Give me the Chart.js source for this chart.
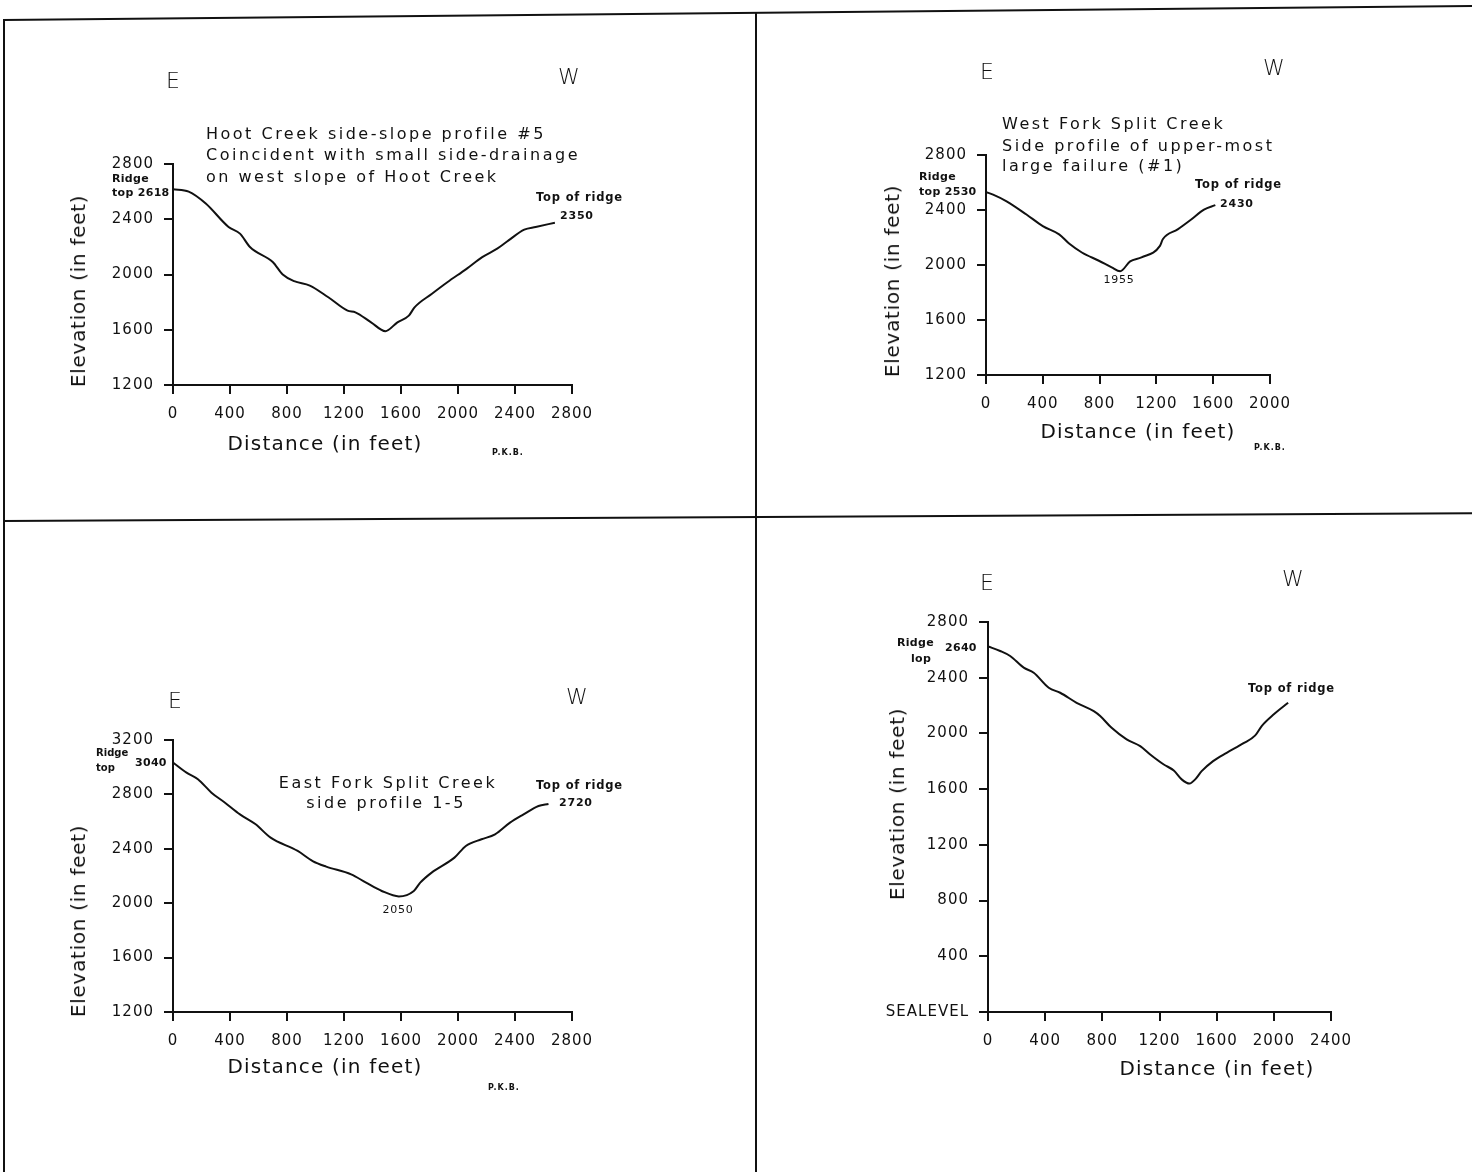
<!DOCTYPE html>
<html>
<head>
<meta charset="utf-8">
<script src="https://cdn.jsdelivr.net/npm/chart.js@4.4.1/dist/chart.umd.min.js"></script>
<style>
  body { margin: 0; width: 1472px; height: 1172px; background: #fff; position: relative; overflow: hidden;
         font-family: "DejaVu Sans", sans-serif; color: #111; }
  canvas { position: absolute; }
  .txt { position: absolute; white-space: pre; line-height: 1; }
  .line { position: absolute; background: #111; }
</style>
</head>
<body>
<canvas id="hoot"></canvas>
<canvas id="west"></canvas>
<canvas id="east"></canvas>
<canvas id="seal"></canvas>
<script>
// Hoot Creek side-slope profile #5
const hootDist = [0, 110, 230, 390, 470, 540, 700, 770, 850, 960, 1090, 1225, 1280, 1390, 1490, 1575, 1655, 1695, 1815, 1925, 2060, 2170, 2275, 2355, 2465, 2545, 2680];
const hootElev = [2618, 2600, 2514, 2344, 2296, 2199, 2090, 2000, 1952, 1920, 1835, 1738, 1726, 1654, 1590, 1654, 1702, 1762, 1859, 1944, 2041, 2126, 2187, 2247, 2325, 2344, 2375];

// West Fork Split Creek, upper-most large failure (#1)
const westDist = [0, 50, 145, 285, 400, 515, 585, 675, 795, 885, 945, 1015, 1095, 1225, 1245, 1350, 1445, 1535, 1615];
const westElev = [2530, 2512, 2463, 2367, 2283, 2223, 2156, 2091, 2031, 1983, 1955, 2026, 2055, 2139, 2187, 2259, 2331, 2403, 2435];

// East Fork Split Creek side profile 1-5
const eastDist = [0, 95, 175, 270, 365, 470, 580, 685, 875, 980, 1075, 1250, 1355, 1465, 1585, 1690, 1735, 1815, 1975, 2055, 2165, 2260, 2365, 2460, 2565, 2635];
const eastElev = [3035, 2960, 2911, 2813, 2739, 2653, 2580, 2482, 2384, 2310, 2269, 2212, 2151, 2090, 2050, 2090, 2151, 2225, 2335, 2421, 2470, 2506, 2592, 2653, 2715, 2730];

// cuarto perfil (base a nivel del mar)
const sealDist = [0, 85, 155, 250, 320, 425, 505, 620, 740, 785, 865, 970, 1065, 1135, 1230, 1300, 1355, 1410, 1450, 1495, 1575, 1670, 1785, 1870, 1915, 2000, 2100];
const sealElev = [2625, 2592, 2556, 2472, 2436, 2328, 2292, 2220, 2160, 2125, 2040, 1957, 1909, 1849, 1777, 1734, 1670, 1640, 1670, 1729, 1801, 1861, 1928, 1986, 2053, 2137, 2220];

const INK = '#111';
const XH = 50;   // alto fijo del eje x

// espaciado de letras en el canvas (la fuente original es ancha)
const espaciado = {
  id: 'espaciado',
  beforeDraw(chart) { chart.ctx.letterSpacing = '1px'; }
};

function crearPerfil(id, caja, area, dist, elev, xMax, yMin, yMax, etiquetaCero, anchoY) {
  const canvas = document.getElementById(id);
  canvas.width = caja.w;
  canvas.height = caja.h;
  canvas.style.left = caja.x + 'px';
  canvas.style.top = caja.y + 'px';
  const YW = anchoY || 80;

  const ejeComun = {
    type: 'linear',
    grid: { drawOnChartArea: false, drawTicks: true, tickLength: 9, color: INK, lineWidth: 2 },
    border: { display: true, color: INK, width: 2 },
    ticks: { stepSize: 400, color: INK, font: { family: 'DejaVu Sans', size: 15 } }
  };

  return new Chart(canvas.getContext('2d'), {
    type: 'line',
    data: {
      datasets: [{
        data: dist.map((d, i) => ({ x: d, y: elev[i] })),
        borderColor: INK,
        borderWidth: 2,
        pointRadius: 0,
        fill: false,
        cubicInterpolationMode: 'monotone'
      }]
    },
    options: {
      responsive: false,
      animation: false,
      events: [],
      layout: {
        padding: {
          left: area.l - caja.x - YW,
          top: area.t - caja.y,
          right: caja.x + caja.w - area.r,
          bottom: caja.y + caja.h - area.b - XH
        }
      },
      plugins: { legend: { display: false }, tooltip: { enabled: false } },
      scales: {
        x: Object.assign({}, ejeComun, {
          min: 0, max: xMax,
          ticks: Object.assign({}, ejeComun.ticks, { padding: 11, maxRotation: 0, callback: v => String(v) }),
          afterFit: s => { s.height = XH; }
        }),
        y: Object.assign({}, ejeComun, {
          min: yMin, max: yMax,
          ticks: Object.assign({}, ejeComun.ticks, {
            padding: 10,
            callback: v => (v === 0 && etiquetaCero) ? etiquetaCero : String(v)
          }),
          afterFit: s => { s.width = YW; }
        })
      }
    },
    plugins: [espaciado]
  });
}

crearPerfil('hoot', { x: 5, y: 25, w: 748, h: 490 }, { l: 173, t: 164, r: 572, b: 385 },
  hootDist, hootElev, 2800, 1200, 2800);
crearPerfil('west', { x: 760, y: 15, w: 710, h: 495 }, { l: 986, t: 155, r: 1270, b: 375 },
  westDist, westElev, 2000, 1200, 2800);
crearPerfil('east', { x: 5, y: 525, w: 748, h: 640 }, { l: 173, t: 740, r: 572, b: 1012 },
  eastDist, eastElev, 2800, 1200, 3200);
crearPerfil('seal', { x: 760, y: 518, w: 710, h: 650 }, { l: 988, t: 622, r: 1331, b: 1012 },
  sealDist, sealElev, 2400, 0, 2800, 'SEALEVEL', 130);

// textos: x = borde izquierdo (o centro / derecha segun alineacion), y = centro vertical
function texto(str, x, y, size, opts) {
  opts = opts || {};
  const el = document.createElement('div');
  el.className = 'txt';
  el.textContent = str;
  el.style.fontSize = size + 'px';
  el.style.letterSpacing = (opts.ls != null ? opts.ls : 1) + 'px';
  if (opts.bold) el.style.fontWeight = 'bold';
  if (opts.weight) el.style.fontWeight = opts.weight;
  let tx = '0';
  if (opts.align === 'center') tx = '-50%';
  if (opts.align === 'right') tx = '-100%';
  el.style.left = x + 'px';
  el.style.top = y + 'px';
  el.style.transform = opts.rot ? `translate(-50%,-50%) rotate(-90deg)` : `translate(${tx},-50%)`;
  document.body.appendChild(el);
}

function raya(x, y, w, h, ang) {
  const el = document.createElement('div');
  el.className = 'line';
  el.style.left = x + 'px'; el.style.top = y + 'px';
  el.style.width = w + 'px'; el.style.height = h + 'px';
  if (ang) { el.style.transformOrigin = '0 0'; el.style.transform = `rotate(${ang}deg)`; }
  document.body.appendChild(el);
}

// marco
raya(3, 19, 1472, 2, -0.55);
raya(3, 19, 2, 1153);
raya(755, 12, 2, 1160);
raya(3, 520, 1472, 2, -0.3);

const titulo = { ls: 2.5 };
const chico = { bold: true, ls: 0.8 };

// panel 1
texto('E', 166, 81, 22, { weight: 300, ls: 0 });
texto('W', 558, 77, 22, { weight: 300, ls: 0 });
texto('Hoot Creek side-slope profile #5', 206, 134, 16, titulo);
texto('Coincident with small side-drainage', 206, 155, 16, titulo);
texto('on west slope of Hoot Creek', 206, 177, 16, titulo);
texto('Ridge', 112, 178, 11, { bold: true, ls: 0.3 });
texto('top 2618', 112, 192, 11, { bold: true, ls: 0.3 });
texto('Top of ridge', 536, 198, 11.5, chico);
texto('2350', 560, 215, 11, chico);
texto('Elevation (in feet)', 78, 291, 20, { rot: true, ls: 0.7 });
texto('Distance (in feet)', 325, 443, 20, { align: 'center', ls: 1.2 });
texto('P.K.B.', 492, 453, 8, { bold: true, ls: 1 });

// panel 2
texto('E', 980, 72, 22, { weight: 300, ls: 0 });
texto('W', 1263, 68, 22, { weight: 300, ls: 0 });
texto('West Fork Split Creek', 1002, 124, 16, titulo);
texto('Side profile of upper-most', 1002, 146, 16, titulo);
texto('large failure (#1)', 1002, 166, 16, titulo);
texto('Ridge', 919, 176, 11, { bold: true, ls: 0.3 });
texto('top 2530', 919, 191, 11, { bold: true, ls: 0.3 });
texto('Top of ridge', 1195, 185, 11.5, chico);
texto('2430', 1220, 203, 11, chico);
texto('1955', 1119, 279, 11, { align: 'center', ls: 0.8 });
texto('Elevation (in feet)', 892, 281, 20, { rot: true, ls: 0.7 });
texto('Distance (in feet)', 1138, 431, 20, { align: 'center', ls: 1.2 });
texto('P.K.B.', 1254, 448, 8, { bold: true, ls: 1 });

// panel 3
texto('E', 168, 701, 22, { weight: 300, ls: 0 });
texto('W', 566, 697, 22, { weight: 300, ls: 0 });
texto('East Fork Split Creek', 388, 783, 16, Object.assign({ align: 'center' }, titulo));
texto('side profile 1-5', 386, 803, 16, Object.assign({ align: 'center' }, titulo));
texto('Ridge', 96, 753, 10, { bold: true, ls: 0 });
texto('top', 96, 768, 10, { bold: true, ls: 0 });
texto('3040', 135, 762, 11, { bold: true, ls: 0.3 });
texto('Top of ridge', 536, 786, 11.5, chico);
texto('2720', 559, 802, 11, chico);
texto('2050', 398, 909, 11, { align: 'center', ls: 0.8 });
texto('Elevation (in feet)', 78, 921, 20, { rot: true, ls: 0.7 });
texto('Distance (in feet)', 325, 1066, 20, { align: 'center', ls: 1.2 });
texto('P.K.B.', 488, 1088, 8, { bold: true, ls: 1 });

// panel 4
texto('E', 980, 583, 22, { weight: 300, ls: 0 });
texto('W', 1282, 579, 22, { weight: 300, ls: 0 });
texto('Ridge', 897, 642, 11, { bold: true, ls: 0.3 });
texto('lop', 911, 658, 11, { bold: true, ls: 0.3 });
texto('2640', 945, 647, 11, { bold: true, ls: 0.3 });
texto('Top of ridge', 1248, 689, 11.5, chico);
texto('Elevation (in feet)', 897, 804, 20, { rot: true, ls: 0.7 });
texto('Distance (in feet)', 1217, 1068, 20, { align: 'center', ls: 1.2 });
</script>
</body>
</html>
